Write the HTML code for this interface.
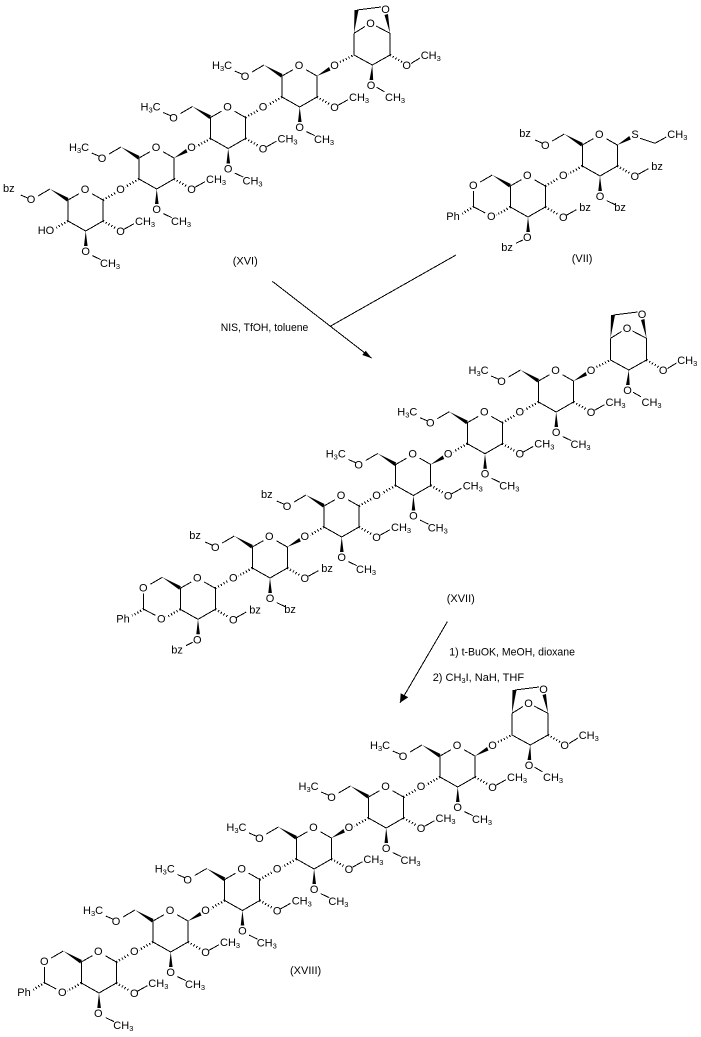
<!DOCTYPE html>
<html><head><meta charset="utf-8"><style>
html,body{margin:0;padding:0;background:#fff;width:701px;height:1037px;overflow:hidden}
svg{display:block}
text{font-family:"Liberation Sans",Arial,sans-serif;font-size:11px;fill:#000}
text.m{text-anchor:middle}
tspan.s{font-size:7.5px}
.l{fill:none;stroke:#000;stroke-width:1;shape-rendering:crispEdges}
.w{fill:#000;stroke:none}
.h{fill:none;stroke:#000;stroke-width:2.4;stroke-dasharray:1 2.2;shape-rendering:crispEdges}
</style></head><body>
<svg width="701" height="1037" viewBox="0 0 701 1037" xmlns="http://www.w3.org/2000/svg">
<defs>
<g id="u">
<path class="l" d="M-6 4.7L-17 11V32L.7 42 18 32V11L7 4.7"/>
<polygon class="w" points="-35,0 -16.5,9 -18,12.5"/>
<path class="l" d="M-35 0L-47 7"/>
<polygon class="w" points="0.7,42 -1,57 2.6,57"/>
<path class="h" d="M18 32L31 39.5"/>
<path class="l" d="M39 40.3L49 34.7"/>
</g>
<path id="t" class="l" d="M-64.3 6L-56.7 9.3"/>
<path id="o3" class="l" d="M7.3 66.6L15.7 70.6"/>
<path id="o3m" class="l" d="M-4.6 65L-11.3 68.3"/>
<path id="g" class="h" d="M-17 32L-31 40"/>
<path id="ha" class="h" d="M18 11L31 3.5"/>
<polygon id="we" class="w" points="18,11 30,2 31.5,5.5"/>
<g id="n"><use href="#u"/><use href="#t"/><use href="#o3"/><use href="#g"/></g>
<g id="bn"><use href="#u"/><use href="#g"/>
<path class="l" d="M-54 16V31.7L-42 38"/>
<path class="h" d="M-53.5 31.7L-65 38.5"/>
</g>
<g id="an">
<path class="l" d="M55 -31.7V-10L73.3 0 91 -10V-31.7L77 -39M55 -31.7L66 -38.5M58 -55L82 -58"/>
<path class="h" d="M41 -3L55 -10"/>
<path class="h" d="M91 -10L103 -3"/>
<path class="l" d="M112 -1.5L121 -7M77.7 22.3L85.3 26.7"/>
<polygon class="w" points="55,-31.7 55.5,-55 59.5,-55"/>
<polygon class="w" points="91,-31.7 85.5,-50 89,-51"/>
<polygon class="w" points="73.3,0 70.5,15 74.2,15"/>
</g>
</defs>

<!-- XVI -->
<g transform="translate(85,189)"><use href="#u"/><use href="#t"/><use href="#o3"/><use href="#ha"/><path class="h" d="M-17 32L-28.7 38.7"/>
<text class="m" x="0" y="4">O</text><text class="m" x="35.5" y="4">O</text><text class="m" x="-54" y="14">O</text><text x="-82" y="3">bz</text><text class="m" x=".7" y="66">O</text><text x="15" y="78">CH<tspan class="s" dy="2">3</tspan></text><text class="m" x="35.5" y="46">O</text><text x="50" y="36">CH<tspan class="s" dy="2">3</tspan></text><text x="-47.3" y="45">HO</text></g>
<g transform="translate(156,147)"><use href="#n"/><use href="#we"/>
<text class="m" x="0" y="4">O</text><text class="m" x="35.5" y="4">O</text><text class="m" x="-54" y="15">O</text><text x="-87" y="4">H<tspan class="s" dy="2">3</tspan><tspan dy="-2">C</tspan></text><text class="m" x=".7" y="66">O</text><text x="15" y="78">CH<tspan class="s" dy="2">3</tspan></text><text class="m" x="35.5" y="46">O</text><text x="50" y="36">CH<tspan class="s" dy="2">3</tspan></text></g>
<g transform="translate(227.5,106.5)"><use href="#n"/><use href="#ha"/>
<text class="m" x="0" y="4">O</text><text class="m" x="35.5" y="4">O</text><text class="m" x="-54" y="15">O</text><text x="-87" y="4">H<tspan class="s" dy="2">3</tspan><tspan dy="-2">C</tspan></text><text class="m" x=".7" y="66">O</text><text x="15" y="78">CH<tspan class="s" dy="2">3</tspan></text><text class="m" x="35.5" y="46">O</text><text x="50" y="36">CH<tspan class="s" dy="2">3</tspan></text></g>
<g transform="translate(299,65)"><use href="#n"/><use href="#we"/><use href="#an"/>
<text class="m" x="0" y="4">O</text><text class="m" x="35.5" y="4">O</text><text class="m" x="-54" y="15">O</text><text x="-87" y="4">H<tspan class="s" dy="2">3</tspan><tspan dy="-2">C</tspan></text><text class="m" x=".7" y="66">O</text><text x="15" y="78">CH<tspan class="s" dy="2">3</tspan></text><text class="m" x="35.5" y="46">O</text><text x="50" y="36">CH<tspan class="s" dy="2">3</tspan></text>
<text class="m" x="71.5" y="-38">O</text><text class="m" x="86.5" y="-52">O</text><text class="m" x="107.7" y="4">O</text><text x="121.7" y="-6">CH<tspan class="s" dy="2">3</tspan></text><text class="m" x="72" y="24">O</text><text x="86" y="36">CH<tspan class="s" dy="2">3</tspan></text></g>

<!-- VII -->
<g transform="translate(527.3,175)"><use href="#bn"/><use href="#o3m"/><use href="#ha"/>
<text class="m" x="0" y="4">O</text><text class="m" x="36" y="4">O</text><text class="m" x="-54" y="14">O</text><text class="m" x="-36" y="45">O</text><text x="-81" y="45">Ph</text><text class="m" x="0" y="66">O</text><text x="-26" y="76">bz</text><text class="m" x="36" y="46">O</text><text x="52" y="36">bz</text></g>
<g transform="translate(599.3,134)"><use href="#n"/><use href="#we"/>
<path class="l" d="M40.7 4.3L55.7 9.3 67 3"/>
<text class="m" x="0" y="4">O</text><text class="m" x="35.7" y="4">S</text><text x="68" y="4">CH<tspan class="s" dy="2">3</tspan></text><text class="m" x="-54" y="15">O</text><text x="-80" y="3">bz</text><text class="m" x=".7" y="66">O</text><text x="15" y="77">bz</text><text class="m" x="35.5" y="46">O</text><text x="52" y="36">bz</text></g>

<!-- XVII -->
<g transform="translate(197.3,577.3)"><use href="#bn"/><use href="#o3m"/><use href="#ha"/>
<text class="m" x="0" y="4">O</text><text class="m" x="36" y="4">O</text><text class="m" x="-54" y="14">O</text><text class="m" x="-36" y="45">O</text><text x="-81" y="45">Ph</text><text class="m" x="0" y="66">O</text><text x="-26" y="76">bz</text><text class="m" x="36" y="46">O</text><text x="52" y="36">bz</text></g>
<g transform="translate(269.3,536)"><use href="#n"/><use href="#we"/>
<text class="m" x="0" y="4">O</text><text class="m" x="35.5" y="4">O</text><text class="m" x="-54" y="15">O</text><text x="-80" y="3">bz</text><text class="m" x=".7" y="66">O</text><text x="15" y="77">bz</text><text class="m" x="35.5" y="46">O</text><text x="52" y="36">bz</text></g>
<g transform="translate(341,495)"><use href="#n"/><use href="#ha"/>
<text class="m" x="0" y="4">O</text><text class="m" x="35.5" y="4">O</text><text class="m" x="-54" y="15">O</text><text x="-80" y="3">bz</text><text class="m" x=".7" y="66">O</text><text x="15" y="78">CH<tspan class="s" dy="2">3</tspan></text><text class="m" x="35.5" y="46">O</text><text x="50" y="36">CH<tspan class="s" dy="2">3</tspan></text></g>
<g transform="translate(412.7,453.5)"><use href="#n"/><use href="#we"/>
<text class="m" x="0" y="4">O</text><text class="m" x="35.5" y="4">O</text><text class="m" x="-54" y="15">O</text><text x="-87" y="4">H<tspan class="s" dy="2">3</tspan><tspan dy="-2">C</tspan></text><text class="m" x=".7" y="66">O</text><text x="15" y="78">CH<tspan class="s" dy="2">3</tspan></text><text class="m" x="35.5" y="46">O</text><text x="50" y="36">CH<tspan class="s" dy="2">3</tspan></text></g>
<g transform="translate(484.3,411.7)"><use href="#n"/><use href="#ha"/>
<text class="m" x="0" y="4">O</text><text class="m" x="35.5" y="4">O</text><text class="m" x="-54" y="15">O</text><text x="-87" y="4">H<tspan class="s" dy="2">3</tspan><tspan dy="-2">C</tspan></text><text class="m" x=".7" y="66">O</text><text x="15" y="78">CH<tspan class="s" dy="2">3</tspan></text><text class="m" x="35.5" y="46">O</text><text x="50" y="36">CH<tspan class="s" dy="2">3</tspan></text></g>
<g transform="translate(555.5,370)"><use href="#n"/><use href="#we"/><use href="#an"/>
<text class="m" x="0" y="4">O</text><text class="m" x="35.5" y="4">O</text><text class="m" x="-54" y="15">O</text><text x="-87" y="4">H<tspan class="s" dy="2">3</tspan><tspan dy="-2">C</tspan></text><text class="m" x=".7" y="66">O</text><text x="15" y="78">CH<tspan class="s" dy="2">3</tspan></text><text class="m" x="35.5" y="46">O</text><text x="50" y="36">CH<tspan class="s" dy="2">3</tspan></text>
<text class="m" x="71.5" y="-38">O</text><text class="m" x="86.5" y="-52">O</text><text class="m" x="107.7" y="4">O</text><text x="121.7" y="-6">CH<tspan class="s" dy="2">3</tspan></text><text class="m" x="72" y="24">O</text><text x="86" y="36">CH<tspan class="s" dy="2">3</tspan></text></g>

<!-- XVIII -->
<g transform="translate(98.3,951)"><use href="#bn"/><use href="#o3"/><use href="#ha"/>
<text class="m" x="0" y="4">O</text><text class="m" x="36" y="4">O</text><text class="m" x="-54" y="14">O</text><text class="m" x="-36" y="45">O</text><text x="-81" y="45">Ph</text><text class="m" x="0" y="66">O</text><text x="15" y="78">CH<tspan class="s" dy="2">3</tspan></text><text class="m" x="36" y="46">O</text><text x="50" y="36">CH<tspan class="s" dy="2">3</tspan></text></g>
<g transform="translate(170,910)"><use href="#n"/><use href="#we"/>
<text class="m" x="0" y="4">O</text><text class="m" x="35.5" y="4">O</text><text class="m" x="-54" y="15">O</text><text x="-87" y="4">H<tspan class="s" dy="2">3</tspan><tspan dy="-2">C</tspan></text><text class="m" x=".7" y="66">O</text><text x="15" y="78">CH<tspan class="s" dy="2">3</tspan></text><text class="m" x="35.5" y="46">O</text><text x="50" y="36">CH<tspan class="s" dy="2">3</tspan></text></g>
<g transform="translate(241.7,868.5)"><use href="#n"/><use href="#ha"/>
<text class="m" x="0" y="4">O</text><text class="m" x="35.5" y="4">O</text><text class="m" x="-54" y="15">O</text><text x="-87" y="4">H<tspan class="s" dy="2">3</tspan><tspan dy="-2">C</tspan></text><text class="m" x=".7" y="66">O</text><text x="15" y="78">CH<tspan class="s" dy="2">3</tspan></text><text class="m" x="35.5" y="46">O</text><text x="50" y="36">CH<tspan class="s" dy="2">3</tspan></text></g>
<g transform="translate(313.4,827)"><use href="#n"/><use href="#we"/>
<text class="m" x="0" y="4">O</text><text class="m" x="35.5" y="4">O</text><text class="m" x="-54" y="15">O</text><text x="-87" y="4">H<tspan class="s" dy="2">3</tspan><tspan dy="-2">C</tspan></text><text class="m" x=".7" y="66">O</text><text x="15" y="78">CH<tspan class="s" dy="2">3</tspan></text><text class="m" x="35.5" y="46">O</text><text x="50" y="36">CH<tspan class="s" dy="2">3</tspan></text></g>
<g transform="translate(385.5,786)"><use href="#n"/><use href="#ha"/>
<text class="m" x="0" y="4">O</text><text class="m" x="35.5" y="4">O</text><text class="m" x="-54" y="15">O</text><text x="-87" y="4">H<tspan class="s" dy="2">3</tspan><tspan dy="-2">C</tspan></text><text class="m" x=".7" y="66">O</text><text x="15" y="78">CH<tspan class="s" dy="2">3</tspan></text><text class="m" x="35.5" y="46">O</text><text x="50" y="36">CH<tspan class="s" dy="2">3</tspan></text></g>
<g transform="translate(457,745)"><use href="#n"/><use href="#we"/><use href="#an"/>
<text class="m" x="0" y="4">O</text><text class="m" x="35.5" y="4">O</text><text class="m" x="-54" y="15">O</text><text x="-87" y="4">H<tspan class="s" dy="2">3</tspan><tspan dy="-2">C</tspan></text><text class="m" x=".7" y="66">O</text><text x="15" y="78">CH<tspan class="s" dy="2">3</tspan></text><text class="m" x="35.5" y="46">O</text><text x="50" y="36">CH<tspan class="s" dy="2">3</tspan></text>
<text class="m" x="71.5" y="-38">O</text><text class="m" x="86.5" y="-52">O</text><text class="m" x="107.7" y="4">O</text><text x="121.7" y="-6">CH<tspan class="s" dy="2">3</tspan></text><text class="m" x="72" y="24">O</text><text x="86" y="36">CH<tspan class="s" dy="2">3</tspan></text></g>

<!-- arrows -->
<path class="l" d="M272.3 281.3L371.7 358.3M456 255L330.7 326M447.3 621.7L400 702.7"/>
<polygon class="w" points="371.7,358.3 362.3,355 365.7,350.7"/>
<polygon class="w" points="400,702.7 400.7,693.3 408.3,697.3"/>

<!-- labels -->
<text x="232.7" y="264.5">(XVI)</text>
<text x="571.7" y="262">(VII)</text>
<text x="446.7" y="602">(XVII)</text>
<text x="290" y="974">(XVIII)</text>
<text x="220.7" y="331" textLength="87.6" lengthAdjust="spacingAndGlyphs">NIS, TfOH, toluene</text>
<text x="449.3" y="655.5" textLength="125.7" lengthAdjust="spacingAndGlyphs">1) t-BuOK, MeOH, dioxane</text>
<text x="432.7" y="681">2) CH<tspan class="s" dy="2">3</tspan><tspan dy="-2">I, NaH, THF</tspan></text>
</svg>
</body></html>
